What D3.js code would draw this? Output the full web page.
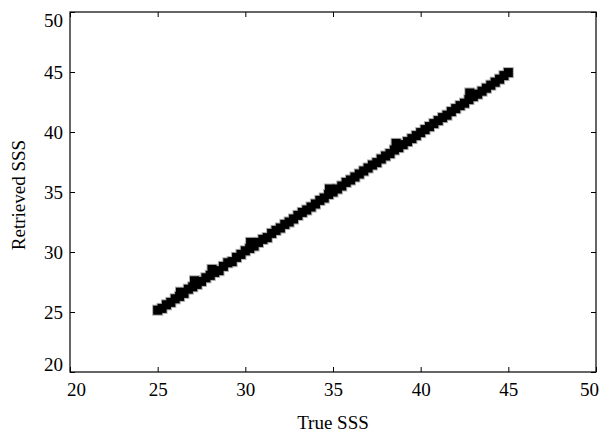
<!DOCTYPE html>
<html>
<head>
<meta charset="utf-8">
<script src="https://cdn.jsdelivr.net/npm/d3@7"></script>
<style>
  body { margin: 0; background: #fff; }
</style>
</head>
<body>
<svg id="mainsvg" width="603" height="432"></svg>
<script>
// true vs retrieved salinity
const trueSSS = [25, 25.25, 25.5, 25.75, 26, 26.25, 26.5, 26.75, 27, 27.25, 27.5, 27.75,
  28, 28.25, 28.5, 28.75, 29, 29.25, 29.5, 29.75, 30, 30.25, 30.5, 30.75, 31, 31.25,
  31.5, 31.75, 32, 32.25, 32.5, 32.75, 33, 33.25, 33.5, 33.75, 34, 34.25, 34.5, 34.75,
  35, 35.25, 35.5, 35.75, 36, 36.25, 36.5, 36.75, 37, 37.25, 37.5, 37.75, 38, 38.25,
  38.5, 38.75, 39, 39.25, 39.5, 39.75, 40, 40.25, 40.5, 40.75, 41, 41.25, 41.5, 41.75,
  42, 42.25, 42.5, 42.75, 43, 43.25, 43.5, 43.75, 44, 44.25, 44.5, 44.75, 45];
const retrievedSSS = [25.15, 25.3, 25.6, 25.8, 26.1, 26.3, 26.55, 26.9, 27.1, 27.3, 27.55, 27.85,
  28.05, 28.3, 28.45, 28.8, 29.1, 29.2, 29.55, 29.8, 30.1, 30.3, 30.5, 30.8, 31.05, 31.2,
  31.55, 31.8, 32, 32.3, 32.5, 32.75, 33.05, 33.3, 33.5, 33.75, 34, 34.3, 34.5, 34.8,
  35, 35.25, 35.5, 35.8, 36, 36.25, 36.5, 36.75, 37, 37.25, 37.45, 37.75, 38, 38.2,
  38.5, 38.7, 38.95, 39.2, 39.45, 39.7, 39.95, 40.2, 40.45, 40.7, 40.95, 41.2, 41.4, 41.7,
  41.95, 42.2, 42.4, 42.7, 42.95, 43.15, 43.4, 43.65, 43.9, 44.15, 44.4, 44.7, 44.95];
// the few points sticking out above the band
const outlierTrue = [26.3, 27.1, 28.1, 30.3, 34.8, 38.6, 42.8];
const outlierRetrieved = [26.65, 27.6, 28.55, 30.8, 35.25, 39.05, 43.25];
const xTicks = [20, 25, 30, 35, 40, 45, 50];
const yTicks = [20, 25, 30, 35, 40, 45, 50];

const serif = 'Liberation Serif, DejaVu Serif, serif';
const svg = d3.select('#mainsvg');
const width = +svg.attr('width');
const height = +svg.attr('height');
const margin = { top: 12, right: 7, bottom: 60, left: 70 };
const innerWidth = width - margin.left - margin.right;
const innerHeight = height - margin.top - margin.bottom;
const g = svg.append('g')
  .attr('transform', `translate(${margin.left}, ${margin.top})`);

const x = d3.scaleLinear().domain([20, 50]).range([0, innerWidth]);
const y = d3.scaleLinear().domain([20, 50]).range([innerHeight, 0]);

const points = outlierTrue.map((t, i) => ({ t, r: outlierRetrieved[i] }))
  .concat(trueSSS.map((t, i) => ({ t, r: retrievedSSS[i] })));

const s = 9;
// soft grey halo first, then the black squares
g.selectAll('rect.halo').data(points).join('rect')
  .attr('class', 'halo')
  .attr('x', d => x(d.t) - s / 2 - 1)
  .attr('y', d => y(d.r) - s / 2 - 1)
  .attr('width', s + 2)
  .attr('height', s + 2)
  .attr('fill', '#aaa');
g.selectAll('rect.pt').data(points).join('rect')
  .attr('class', 'pt')
  .attr('x', d => x(d.t) - s / 2)
  .attr('y', d => y(d.r) - s / 2)
  .attr('width', s)
  .attr('height', s)
  .attr('fill', '#000');

const fontSize = 19;
const styleAxis = sel => {
  sel.attr('font-family', serif);
  sel.select('.domain').remove();
  sel.selectAll('line').attr('stroke', '#000');
  sel.selectAll('text').attr('font-size', fontSize).attr('fill', '#000')
    .attr('font-family', serif);
};

const xAxis = g.append('g').attr('transform', `translate(0, ${innerHeight})`)
  .call(d3.axisBottom(x).tickValues(xTicks).tickSize(-5).tickPadding(11).tickFormat(d3.format('d')))
  .call(styleAxis);
g.append('g')
  .call(d3.axisTop(x).tickValues(xTicks).tickSize(-5).tickFormat(''))
  .call(styleAxis);
const yAxis = g.append('g')
  .call(d3.axisLeft(y).tickValues(yTicks).tickSize(-5).tickPadding(7).tickFormat(d3.format('d')))
  .call(styleAxis);
g.append('g').attr('transform', `translate(${innerWidth}, 0)`)
  .call(d3.axisRight(y).tickValues(yTicks).tickSize(-5).tickFormat(''))
  .call(styleAxis);

// end labels pushed inside like the original
xAxis.selectAll('text').attr('dx', d => d === 20 ? 6 : d === 50 ? -7 : 0);
yAxis.selectAll('text').attr('dy', d => d === 50 ? '0.75em' : d === 20 ? '-0.1em' : '0.32em');

// frame
g.append('rect')
  .attr('width', innerWidth)
  .attr('height', innerHeight)
  .attr('fill', 'none')
  .attr('stroke', '#000')
  .attr('stroke-width', 1.2);

svg.append('text')
  .attr('x', margin.left + innerWidth / 2)
  .attr('y', 429)
  .attr('text-anchor', 'middle')
  .attr('font-family', serif)
  .attr('font-size', fontSize)
  .text('True SSS');

svg.append('text')
  .attr('transform', `translate(25, ${margin.top + innerHeight / 2 + 3}) rotate(-90)`)
  .attr('text-anchor', 'middle')
  .attr('font-family', serif)
  .attr('font-size', fontSize)
  .text('Retrieved SSS');
</script>
</body>
</html>
